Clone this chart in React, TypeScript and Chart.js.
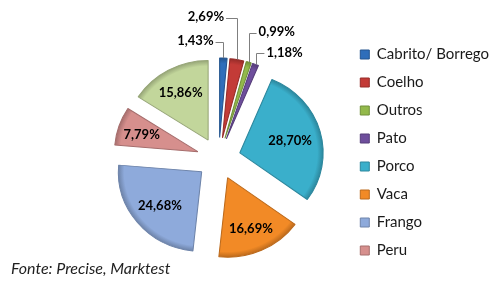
import React, { useEffect, useRef } from 'react';
import { Chart, registerables } from 'chart.js';

Chart.register(...registerables);

const categories = ['Cabrito/ Borrego', 'Coelho', 'Outros', 'Pato', 'Porco', 'Vaca', 'Frango', 'Peru', ''];
const shares = [1.43, 2.69, 0.99, 1.18, 28.7, 16.69, 24.68, 7.79, 15.86];
const sliceColors = ['#2F6EBA', '#C33B37', '#93B94B', '#6E4E9C', '#3AAFCB', '#F28A26', '#8EAADB', '#D68F8D', '#C2D69B'];
const edgeColors = ['#24558F', '#962C29', '#71903A', '#553C79', '#2C879D', '#BC6A1C', '#6E84AA', '#A66E6D', '#97A678'];
const sourceNote = 'Fonte: Precise, Marktest';

const EXPLODE = 21;
const RADIUS = 79.5;
const SX = 1.048;
const SMALL_LIMIT = 3;
const LABEL_NUDGE_Y = 1;
const outsideLabelOffsets: Record<number, [number, number]> = {
  0: [-28, -17],
  1: [-31, -43],
  2: [28, -30],
  3: [29, -12],
};

const fmt = (v: number) => v.toFixed(2).replace('.', ',') + '%';

const sliceFill = (c: any) => {
  const i = c.dataIndex;
  const chart = c.chart;
  const area = chart.chartArea;
  if (!area || i === undefined) return sliceColors[i ?? 0];
  const total = shares.reduce((a, b) => a + b, 0);
  let before = 0;
  for (let k = 0; k < i; k++) before += shares[k];
  const start = -Math.PI / 2 + (before / total) * Math.PI * 2;
  const end = start + (shares[i] / total) * Math.PI * 2;
  const mid = (start + end) / 2;
  const x = (area.left + area.right) / 2 + Math.cos(mid) * EXPLODE;
  const y = (area.top + area.bottom) / 2 + Math.sin(mid) * EXPLODE;
  const g = chart.ctx.createRadialGradient(x, y, 0, x, y, RADIUS);
  g.addColorStop(0, sliceColors[i]);
  g.addColorStop(0.86, sliceColors[i]);
  g.addColorStop(0.93, sliceColors[i]);
  g.addColorStop(1, edgeColors[i]);
  return g;
};

const piePlugin = {
  id: 'explodedPie',
  afterDatasetsUpdate(chart: any) {
    const meta = chart.getDatasetMeta(0);
    meta.data.forEach((arc: any) => {
      const mid = (arc.startAngle + arc.endAngle) / 2;
      arc.x += Math.cos(mid) * EXPLODE;
      arc.y += Math.sin(mid) * EXPLODE;
    });
  },
  beforeDatasetsDraw(chart: any) {
    const ctx = chart.ctx;
    const { left, right } = chart.chartArea;
    const cx = (left + right) / 2;
    ctx.save();
    ctx.translate(cx, 0);
    ctx.scale(SX, 1);
    ctx.translate(-cx, 0);
  },
  afterDatasetsDraw(chart: any) {
    const ctx = chart.ctx;
    ctx.restore();
    const { left, right } = chart.chartArea;
    const cx = (left + right) / 2;
    const sx = (x: number) => cx + SX * (x - cx);
    const meta = chart.getDatasetMeta(0);
    ctx.save();
    ctx.font = 'bold 13px Lato';
    ctx.fillStyle = '#000';
    ctx.textAlign = 'center';
    ctx.textBaseline = 'middle';
    meta.data.forEach((arc: any, i: number) => {
      const v = shares[i];
      const mid = (arc.startAngle + arc.endAngle) / 2;
      const R = arc.outerRadius;
      const text = fmt(v);
      if (v >= SMALL_LIMIT) {
        const a = arc.endAngle - arc.startAngle;
        const r = ((4 * R * Math.sin(a / 2)) / (3 * a)) * 1.08;
        ctx.fillText(text, sx(arc.x + Math.cos(mid) * r), arc.y + Math.sin(mid) * r + LABEL_NUDGE_Y);
      } else {
        const ox = sx(arc.x + Math.cos(mid) * R);
        const oy = arc.y + Math.sin(mid) * R;
        const [dx, dy] = outsideLabelOffsets[i] || [0, -15];
        const lx = ox + dx;
        const ly = oy + dy;
        ctx.fillText(text, lx, ly);
        const w = ctx.measureText(text).width;
        const ex = dx < 0 ? lx + w / 2 + 2 : lx - w / 2 - 2;
        ctx.beginPath();
        ctx.strokeStyle = '#7f7f7f';
        ctx.lineWidth = 1;
        ctx.moveTo(Math.round(ox) + 0.5, oy);
        ctx.lineTo(Math.round(ox) + 0.5, Math.round(ly + 1) + 0.5);
        ctx.lineTo(ex, Math.round(ly + 1) + 0.5);
        ctx.stroke();
      }
    });
    ctx.restore();
  },
  afterDraw(chart: any) {
    const ctx = chart.ctx;
    ctx.save();
    ctx.font = 'italic 16px Lato';
    ctx.fillStyle = '#1f1f1f';
    ctx.textAlign = 'left';
    ctx.textBaseline = 'alphabetic';
    ctx.fillText(sourceNote, 11, 274);
    ctx.restore();
  },
};

export default function App() {
  const ref = useRef<HTMLCanvasElement | null>(null);
  useEffect(() => {
    if (!ref.current) return;
    const chart = new Chart(ref.current, {
      type: 'pie',
      data: {
        labels: categories,
        datasets: [
          {
            data: shares,
            backgroundColor: sliceFill,
            borderColor: edgeColors,
            borderWidth: 1,
            radius: RADIUS,
          } as any,
        ],
      },
      options: {
        animation: false,
        responsive: true,
        maintainAspectRatio: false,
        layout: { padding: { left: 90, right: 4, top: 34, bottom: 4 } },
        plugins: {
          tooltip: { enabled: false },
          legend: {
            position: 'right',
            align: 'start',
            labels: {
              boxWidth: 9,
              boxHeight: 9,
              padding: 13,
              color: '#1a1a1a',
              font: { family: 'Lato', size: 15 },
              generateLabels: () =>
                categories.map((t, i) => ({
                  text: t,
                  fillStyle: sliceColors[i],
                  strokeStyle: edgeColors[i],
                  lineWidth: 1,
                  hidden: false,
                  index: i,
                  fontColor: '#1a1a1a',
                })),
              filter: (item: any) => item.text !== '',
            },
          },
        },
      },
      plugins: [piePlugin],
    });
    return () => chart.destroy();
  }, []);
  return (
    <div style={{ position: 'fixed', left: 0, top: 0, width: 503, height: 287, background: '#fff' }}>
      <canvas ref={ref} />
    </div>
  );
}
